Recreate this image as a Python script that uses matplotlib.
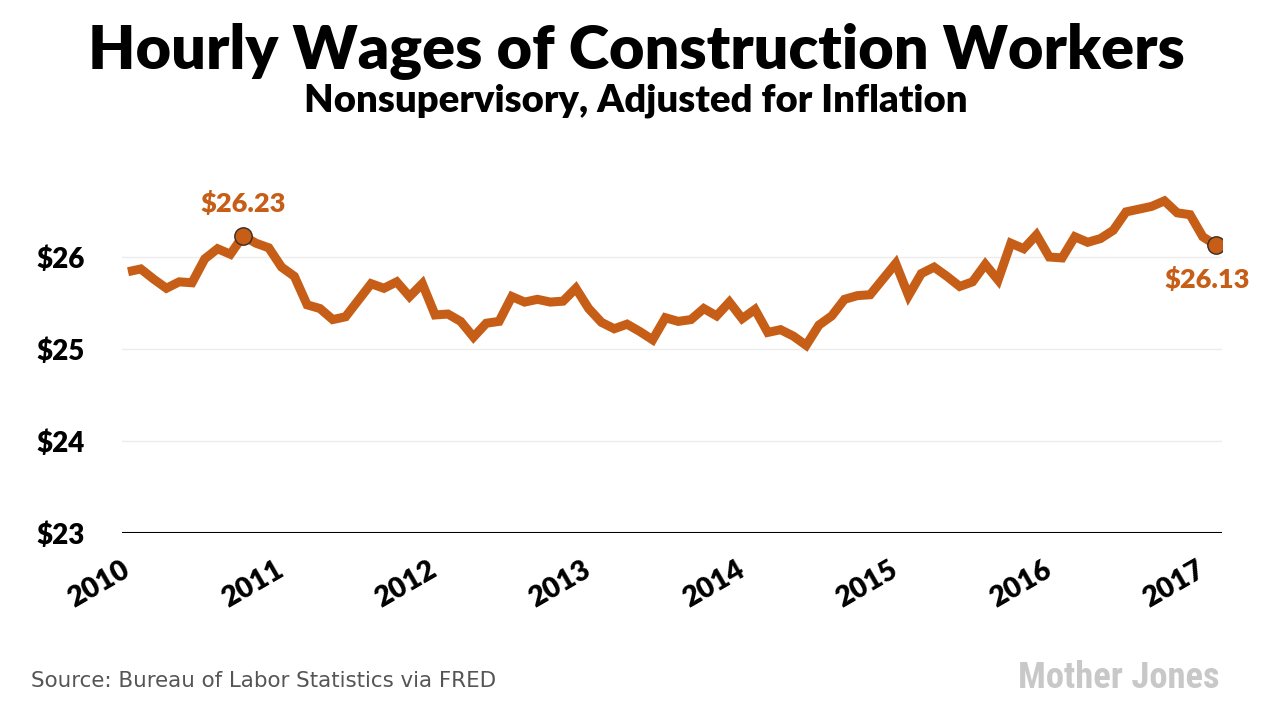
import matplotlib
matplotlib.use("Agg")
import matplotlib.pyplot as plt
import matplotlib.transforms as mtransforms
from matplotlib import font_manager

# ---------------- data ----------------
start_year = 2010
wages = [
    25.84, 25.87, 25.76, 25.66, 25.73, 25.72, 25.98, 26.09, 26.03, 26.23, 26.15, 26.10,  # 2010
    25.89, 25.79, 25.48, 25.44, 25.32, 25.35, 25.53, 25.71, 25.66, 25.73, 25.57, 25.71,  # 2011
    25.37, 25.38, 25.30, 25.13, 25.28, 25.30, 25.57, 25.51, 25.54, 25.51, 25.52, 25.66,  # 2012
    25.44, 25.29, 25.22, 25.27, 25.19, 25.10, 25.34, 25.30, 25.32, 25.44, 25.36, 25.51,  # 2013
    25.33, 25.43, 25.18, 25.21, 25.14, 25.04, 25.26, 25.36, 25.54, 25.58, 25.59, 25.76,  # 2014
    25.93, 25.58, 25.82, 25.89, 25.79, 25.68, 25.73, 25.92, 25.75, 26.15, 26.09, 26.24,  # 2015
    26.00, 25.99, 26.22, 26.16, 26.20, 26.29, 26.49, 26.52, 26.55, 26.61, 26.48, 26.46,  # 2016
    26.22, 26.13,                                                                        # 2017
]
dates = [start_year + i / 12 for i in range(len(wages))]
year_ticks = [2010, 2011, 2012, 2013, 2014, 2015, 2016, 2017]
year_labels = ["2010", "2011", "2012", "2013", "2014", "2015", "2016", "2017"]
y_ticks = [23, 24, 25, 26]
y_labels = ["$23", "$24", "$25", "$26"]
highlight_idx = [9, len(wages) - 1]
highlight_labels = ["$26.23", "$26.13"]

title = "Hourly Wages of Construction Workers"
subtitle = "Nonsupervisory, Adjusted for Inflation"
source = "Source: Bureau of Labor Statistics via FRED"
logo = "Mother Jones"

# ---------------- fonts ----------------
available = {f.name for f in font_manager.fontManager.ttflist}
def pick(cands, default="DejaVu Sans"):
    for c in cands:
        if c in available:
            return c
    return default

head_font = pick(["Lato", "Open Sans", "Roboto", "Noto Sans"])
logo_font = pick(["Liberation Sans Narrow", "DejaVu Sans Condensed", "Roboto Condensed", "Liberation Sans"])
src_font = "DejaVu Sans"

ORANGE = "#C65E17"

W, H = 1266, 714
fig = plt.figure(figsize=(W / 100, H / 100), dpi=100)
fig.patch.set_facecolor("white")

ax_left, ax_right = 122 / W, 1222 / W
ax_bottom, ax_top = (H - 533) / H, (H - 165) / H
ax = fig.add_axes([ax_left, ax_bottom, ax_right - ax_left, ax_top - ax_bottom])

ax.plot(dates, wages, color=ORANGE, lw=6.5, solid_joinstyle="miter", solid_capstyle="butt", zorder=3)
for idx in highlight_idx:
    ax.plot(dates[idx], wages[idx], "o", ms=12.5, mfc=ORANGE, mec="#3a2a20", mew=1.0, zorder=4)

ax.annotate(highlight_labels[0], (dates[highlight_idx[0]], wages[highlight_idx[0]]),
            xytext=(0, 14), textcoords="offset points", ha="center", va="bottom",
            color=ORANGE, fontsize=19.5, fontweight="heavy", family=head_font)
ax.annotate(highlight_labels[1], (dates[highlight_idx[1]], wages[highlight_idx[1]]),
            xytext=(-6, -16), textcoords="offset points", ha="center", va="top",
            color=ORANGE, fontsize=19.5, fontweight="heavy", family=head_font)

ax.set_xlim(2010 - 0.47 / 12, 2010 + 85.5 / 12)
ax.set_ylim(23, 27)

for yv in y_ticks[1:]:
    ax.axhline(yv, color="#ececec", lw=1.0, zorder=1)
ax.axhline(23, color="black", lw=1.5, zorder=2)

for s in ax.spines.values():
    s.set_visible(False)

ax.set_yticks(y_ticks)
ax.set_yticklabels(y_labels)
ax.tick_params(axis="y", length=0, pad=0)
yoff = mtransforms.ScaledTranslation(-(122 - 36) / 100, 0, fig.dpi_scale_trans)
for lbl in ax.get_yticklabels():
    lbl.set_fontsize(20)
    lbl.set_fontweight("heavy")
    lbl.set_family(head_font)
    lbl.set_ha("left")
    lbl.set_transform(lbl.get_transform() + yoff)

ax.set_xticks(year_ticks)
ax.set_xticklabels(year_labels)
ax.tick_params(axis="x", length=0, pad=25)
offset = mtransforms.ScaledTranslation(0 / 100, 0, fig.dpi_scale_trans)
for lbl in ax.get_xticklabels():
    lbl.set_fontsize(20.5)
    lbl.set_fontweight("heavy")
    lbl.set_family(head_font)
    lbl.set_rotation(30)
    lbl.set_rotation_mode("anchor")
    lbl.set_ha("right")
    lbl.set_va("center")
    lbl.set_transform(lbl.get_transform() + offset)

# ---------------- titles ----------------
renderer = fig.canvas.get_renderer()
def fit_text(x, y, s, target_w, **kw):
    t = fig.text(x, y, s, **kw)
    fs = kw.get("fontsize", 20)
    for _ in range(3):
        w = t.get_window_extent(renderer).width
        fs = fs * target_w / w
        t.set_fontsize(fs)
    return t

fit_text(636 / W, 1 - 68 / H, title, 1097, ha="center", va="baseline",
         fontsize=44, fontweight="heavy", family=head_font, color="black")
fit_text(636 / W, 1 - 112 / H, subtitle, 661, ha="center", va="baseline",
         fontsize=24, fontweight="heavy", family=head_font, color="black")
fit_text(31 / W, 1 - 687 / H, source, 467, ha="left", va="baseline",
         fontsize=14, family=src_font, color="#555555")
fit_text(1018 / W, 1 - 688 / H, logo, 202, ha="left", va="baseline",
         fontsize=30, fontweight="bold", family=logo_font, color="#c8c8c8")

fig.savefig("out.png", dpi=100, facecolor="white")
